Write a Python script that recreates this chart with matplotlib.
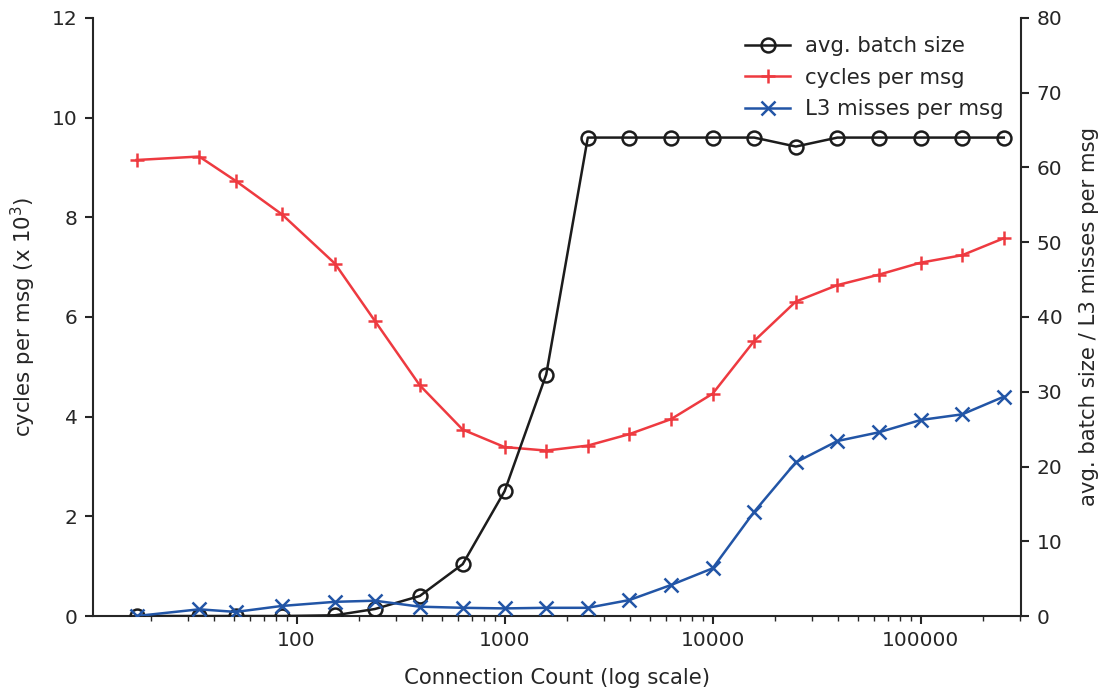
import matplotlib
matplotlib.use("Agg")
import matplotlib.pyplot as plt
from matplotlib.ticker import FixedLocator, FuncFormatter, LogLocator, NullFormatter

# Connection counts (log-spaced sweep)
connections = [17, 34, 51, 85, 153, 238, 391, 629, 1000, 1585, 2512, 3981,
               6310, 10000, 15849, 25119, 39811, 63096, 100000, 158489, 251189]

# Cycles per message, in thousands (left axis)
cycles_per_msg = [9.15, 9.22, 8.73, 8.06, 7.07, 5.92, 4.63, 3.74, 3.39, 3.32,
                  3.42, 3.65, 3.95, 4.46, 5.52, 6.31, 6.64, 6.85, 7.09, 7.24, 7.58]

# Average batch size (right axis)
avg_batch_size = [0.0, 0.0, 0.0, 0.0, 0.1, 0.94, 2.68, 6.94, 16.7, 32.3,
                  64.0, 64.0, 64.0, 64.0, 64.0, 62.8, 64.0, 64.0, 64.0, 64.0, 64.0]

# L3 cache misses per message (right axis)
l3_misses_per_msg = [0.0, 0.9, 0.55, 1.35, 1.9, 2.05, 1.25, 1.1, 1.02, 1.1,
                     1.1, 2.14, 4.15, 6.38, 13.95, 20.56, 23.41, 24.58, 26.22, 26.98, 29.34]

left_ticks = [0, 2, 4, 6, 8, 10, 12]
right_ticks = [0, 10, 20, 30, 40, 50, 60, 70, 80]
x_ticks = [100, 1000, 10000, 100000]

TEXT = "#262626"
RED = "#ee3a40"
BLUE = "#2255a6"
BLACK = "#1c1c1c"

TICK_FS = 14.5
LABEL_FS = 15.3

plt.rcParams.update({
    "font.family": ["DejaVu Sans"],
    "font.size": LABEL_FS,
    "text.color": TEXT,
    "axes.labelcolor": TEXT,
    "xtick.color": TEXT,
    "ytick.color": TEXT,
    "axes.edgecolor": TEXT,
    "axes.linewidth": 1.5,
    "xtick.major.width": 1.5,
    "ytick.major.width": 1.5,
    "xtick.minor.width": 1.0,
    "xtick.major.size": 6,
    "ytick.major.size": 6,
    "xtick.minor.size": 3.5,
    "xtick.major.pad": 5,
    "ytick.major.pad": 5,
    "xtick.labelsize": TICK_FS,
    "ytick.labelsize": TICK_FS,
})

fig = plt.figure(figsize=(11.02, 6.91), dpi=100)
ax = fig.add_axes([0.0844, 0.1085, 0.8424, 0.8655])
ax2 = ax.twinx()

ax.plot(connections, cycles_per_msg, color=RED, lw=1.8, marker="+",
        ms=9.5, mew=1.8, label="cycles per msg")
ax2.plot(connections, avg_batch_size, color=BLACK, lw=1.8, marker="o",
         ms=10, mew=1.8, mfc="none", label="avg. batch size")
ax2.plot(connections, l3_misses_per_msg, color=BLUE, lw=1.8, marker="x",
         ms=9.5, mew=1.8, label="L3 misses per msg")

ax.set_xscale("log")
ax.set_xlim(10.5, 305000)
ax.xaxis.set_major_locator(FixedLocator(x_ticks))
ax.xaxis.set_major_formatter(FuncFormatter(lambda v, p: f"{int(round(v))}"))
ax.xaxis.set_minor_locator(LogLocator(base=10, subs=range(2, 10), numticks=20))
ax.xaxis.set_minor_formatter(NullFormatter())

ax.set_ylim(0, 12)
ax.set_yticks(left_ticks)
ax2.set_ylim(0, 80)
ax2.set_yticks(right_ticks)

for a in (ax, ax2):
    a.spines["top"].set_visible(False)
ax.spines["right"].set_visible(False)
ax2.spines["left"].set_visible(False)
ax2.spines["bottom"].set_visible(False)

ax.set_xlabel("Connection Count (log scale)", fontsize=LABEL_FS, labelpad=13)
ax.set_ylabel("cycles per msg (x 10$^3$)", fontsize=LABEL_FS, labelpad=10)
ax2.set_ylabel("avg. batch size / L3 misses per msg", fontsize=LABEL_FS, labelpad=12)

h1, l1 = ax.get_legend_handles_labels()
h2, l2 = ax2.get_legend_handles_labels()
handles = [h2[0], h1[0], h2[1]]
labels = [l2[0], l1[0], l2[1]]
ax2.legend(handles, labels, loc="upper right", frameon=False, fontsize=LABEL_FS,
           handlelength=2.1, handletextpad=0.7, borderaxespad=0.45,
           labelspacing=0.55)

fig.savefig("out.png", dpi=100)
